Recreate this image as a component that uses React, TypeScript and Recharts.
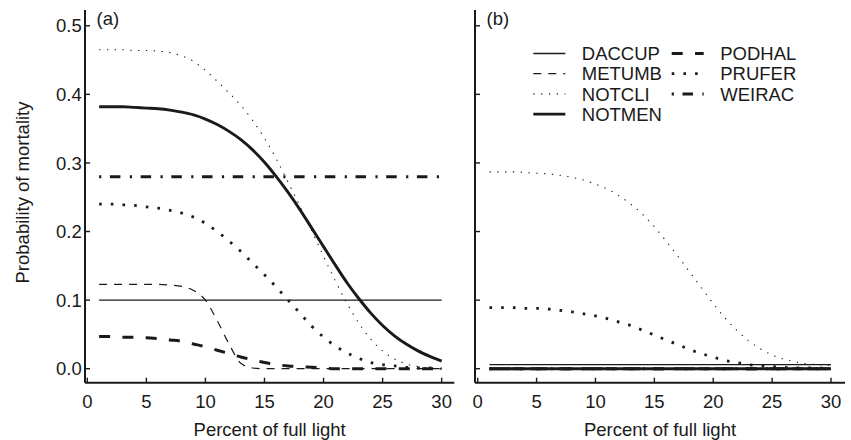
import React from "react";
import { LineChart, Line, XAxis, YAxis } from "recharts";

// light levels (percent of full light)
const LIGHT = [1, 2, 3, 4, 5, 6, 7, 8, 9, 10, 11, 12, 13, 14, 15, 16, 17, 18, 19, 20, 21, 22, 23, 24, 25, 26, 27, 28, 29, 30];

const X_TICKS = [0, 5, 10, 15, 20, 25, 30];
const Y_TICKS = [0, 0.1, 0.2, 0.3, 0.4, 0.5];

const SPECIES = ["DACCUP", "METUMB", "NOTCLI", "NOTMEN", "PODHAL", "PRUFER", "WEIRAC"];

// panel (a)
const A_DACCUP = [0.1, 0.1, 0.1, 0.1, 0.1, 0.1, 0.1, 0.1, 0.1, 0.1, 0.1, 0.1, 0.1, 0.1, 0.1, 0.1, 0.1, 0.1, 0.1, 0.1, 0.1, 0.1, 0.1, 0.1, 0.1, 0.1, 0.1, 0.1, 0.1, 0.1];
const A_METUMB = [0.123, 0.123, 0.123, 0.123, 0.123, 0.123, 0.122, 0.12, 0.114, 0.1, 0.07, 0.036, 0.008, 0.001, 0, 0, 0, 0, 0, 0, 0, 0, 0, 0, 0, 0, 0, 0, 0, 0];
const A_NOTCLI = [0.465, 0.465, 0.465, 0.464, 0.464, 0.463, 0.461, 0.456, 0.448, 0.435, 0.419, 0.402, 0.384, 0.362, 0.336, 0.306, 0.272, 0.237, 0.201, 0.164, 0.128, 0.095, 0.066, 0.043, 0.026, 0.014, 0.007, 0.003, 0.001, 0];
const A_NOTMEN = [0.382, 0.382, 0.382, 0.381, 0.38, 0.379, 0.377, 0.374, 0.37, 0.364, 0.356, 0.346, 0.334, 0.319, 0.301, 0.28, 0.257, 0.232, 0.205, 0.178, 0.151, 0.125, 0.102, 0.081, 0.063, 0.048, 0.036, 0.026, 0.018, 0.011];
const A_PODHAL = [0.047, 0.047, 0.046, 0.046, 0.045, 0.044, 0.042, 0.04, 0.036, 0.032, 0.027, 0.022, 0.017, 0.013, 0.009, 0.006, 0.004, 0.003, 0.002, 0.001, 0, 0, 0, 0, 0, 0, 0, 0, 0, 0];
const A_PRUFER = [0.24, 0.24, 0.239, 0.238, 0.236, 0.234, 0.231, 0.227, 0.221, 0.212, 0.2, 0.186, 0.171, 0.154, 0.137, 0.119, 0.1, 0.081, 0.062, 0.046, 0.033, 0.023, 0.015, 0.009, 0.006, 0.004, 0.002, 0.001, 0.001, 0];
const A_WEIRAC = [0.28, 0.28, 0.28, 0.28, 0.28, 0.28, 0.28, 0.28, 0.28, 0.28, 0.28, 0.28, 0.28, 0.28, 0.28, 0.28, 0.28, 0.28, 0.28, 0.28, 0.28, 0.28, 0.28, 0.28, 0.28, 0.28, 0.28, 0.28, 0.28, 0.28];

// panel (b)
const B_DACCUP = [0.006, 0.006, 0.006, 0.006, 0.006, 0.006, 0.006, 0.006, 0.006, 0.006, 0.006, 0.006, 0.006, 0.006, 0.006, 0.006, 0.006, 0.006, 0.006, 0.006, 0.006, 0.006, 0.006, 0.006, 0.006, 0.006, 0.006, 0.006, 0.006, 0.006];
const B_METUMB = [0, 0, 0, 0, 0, 0, 0, 0, 0, 0, 0, 0, 0, 0, 0, 0, 0, 0, 0, 0, 0, 0, 0, 0, 0, 0, 0, 0, 0, 0];
const B_NOTCLI = [0.287, 0.287, 0.287, 0.286, 0.285, 0.284, 0.282, 0.279, 0.275, 0.269, 0.262, 0.252, 0.24, 0.225, 0.207, 0.186, 0.164, 0.141, 0.118, 0.095, 0.074, 0.056, 0.041, 0.029, 0.02, 0.014, 0.01, 0.007, 0.006, 0.005];
const B_NOTMEN = [0, 0, 0, 0, 0, 0, 0, 0, 0, 0, 0, 0, 0, 0, 0, 0, 0, 0, 0, 0, 0, 0, 0, 0, 0, 0, 0, 0, 0, 0];
const B_PODHAL = [0, 0, 0, 0, 0, 0, 0, 0, 0, 0, 0, 0, 0, 0, 0, 0, 0, 0, 0, 0, 0, 0, 0, 0, 0, 0, 0, 0, 0, 0];
const B_PRUFER = [0.089, 0.089, 0.089, 0.088, 0.088, 0.087, 0.085, 0.083, 0.08, 0.077, 0.073, 0.068, 0.063, 0.056, 0.049, 0.042, 0.035, 0.028, 0.022, 0.017, 0.012, 0.009, 0.006, 0.004, 0.003, 0.002, 0.001, 0.001, 0.001, 0];
const B_WEIRAC = [0, 0, 0, 0, 0, 0, 0, 0, 0, 0, 0, 0, 0, 0, 0, 0, 0, 0, 0, 0, 0, 0, 0, 0, 0, 0, 0, 0, 0, 0];

const FONT = '"Liberation Sans", Arial, Helvetica, sans-serif';
const FS = 18.5;
const INK = "#1a1a1a";

// line styles, mimicking R's lty/lwd
const STYLE: Record<string, { w: number; dash?: string }> = {
  DACCUP: { w: 1.3 },
  METUMB: { w: 1.2, dash: "8 7" },
  NOTCLI: { w: 1.1, dash: "1.3 6.5" },
  NOTMEN: { w: 2.9 },
  PODHAL: { w: 3, dash: "11 12.3" },
  PRUFER: { w: 2.8, dash: "2.6 9.1" },
  WEIRAC: { w: 3, dash: "2.2 8.6 10.5 9.4" },
};

function buildRows(series: Record<string, number[]>) {
  return LIGHT.map((x, i) => {
    const row: Record<string, number> = { x };
    SPECIES.forEach((s) => {
      row[s] = series[s][i];
    });
    return row;
  });
}

const rowsA = buildRows({
  DACCUP: A_DACCUP, METUMB: A_METUMB, NOTCLI: A_NOTCLI, NOTMEN: A_NOTMEN,
  PODHAL: A_PODHAL, PRUFER: A_PRUFER, WEIRAC: A_WEIRAC,
});
const rowsB = buildRows({
  DACCUP: B_DACCUP, METUMB: B_METUMB, NOTCLI: B_NOTCLI, NOTMEN: B_NOTMEN,
  PODHAL: B_PODHAL, PRUFER: B_PRUFER, WEIRAC: B_WEIRAC,
});

const tickStyle = { fill: INK, fontSize: FS, fontFamily: FONT };
const axisLine = { stroke: INK, strokeWidth: 2 };
const tickLine = { stroke: INK, strokeWidth: 1.4 };

function seriesLines() {
  return SPECIES.map((s) => (
    <Line
      key={s}
      type="monotone"
      dataKey={s}
      stroke={INK}
      strokeWidth={STYLE[s].w}
      strokeDasharray={STYLE[s].dash}
      strokeLinecap="butt"
      dot={false}
      activeDot={false}
      isAnimationActive={false}
    />
  ));
}

function Legend7() {
  const col1 = ["DACCUP", "METUMB", "NOTCLI", "NOTMEN"];
  const col2 = ["PODHAL", "PRUFER", "WEIRAC"];
  const row = (name: string, i: number, x0: number) => {
    const y = 53.5 + i * 20.2;
    return (
      <g key={name}>
        <line x1={x0} x2={x0 + 32} y1={y} y2={y} stroke={INK}
          strokeWidth={STYLE[name].w} strokeDasharray={STYLE[name].dash} />
        <text x={x0 + 48.5} y={y + 6.6} fill={INK} fontSize={FS} fontFamily={FONT}>{name}</text>
      </g>
    );
  };
  return (
    <g>
      {col1.map((n, i) => row(n, i, 73.3))}
      {col2.map((n, i) => row(n, i, 211.7))}
    </g>
  );
}

export default function App() {
  return (
    <div style={{ position: "absolute", left: 0, top: 0, width: 851, height: 440, background: "#fff" }}>
      <div style={{ position: "absolute", left: 0, top: 0 }}>
        <LineChart width={460} height={440} data={rowsA} margin={{ top: 10, right: 5.7, bottom: 0.3, left: 0 }}>
          <XAxis
            type="number"
            dataKey="x"
            domain={[-0.195, 31.07]}
            allowDataOverflow
            ticks={X_TICKS}
            interval={0}
            height={57}
            tickSize={-5}
            tickMargin={17}
            axisLine={axisLine}
            tickLine={tickLine}
            tick={tickStyle}
            label={{ value: "Percent of full light", position: "insideBottom", offset: 4, fill: INK, fontSize: FS, fontFamily: FONT }}
          />
          <YAxis
            type="number"
            domain={[-0.0204, 0.523]}
            allowDataOverflow
            ticks={Y_TICKS}
            interval={0}
            width={85}
            tickSize={-5}
            tickMargin={8.3}
            tickFormatter={(v: number) => v.toFixed(1)}
            axisLine={axisLine}
            tickLine={tickLine}
            tick={tickStyle}
          />
          {seriesLines()}
          <text x={29.3} y={192.5} transform="rotate(-90 29.3 192.5)" textAnchor="middle"
            fill={INK} fontSize={FS} fontFamily={FONT}>Probability of mortality</text>
          <text x={96.5} y={25} fill={INK} fontSize={FS} fontFamily={FONT}>(a)</text>
        </LineChart>
      </div>
      <div style={{ position: "absolute", left: 460, top: 0 }}>
        <LineChart width={391} height={440} data={rowsB} margin={{ top: 10, right: 6, bottom: 0.3, left: 0 }}>
          <XAxis
            type="number"
            dataKey="x"
            domain={[-0.23, 31.19]}
            allowDataOverflow
            ticks={X_TICKS}
            interval={0}
            height={57}
            tickSize={-5}
            tickMargin={17}
            axisLine={axisLine}
            tickLine={tickLine}
            tick={tickStyle}
            label={{ value: "Percent of full light", position: "insideBottom", offset: 4, fill: INK, fontSize: FS, fontFamily: FONT }}
          />
          <YAxis
            type="number"
            domain={[-0.0204, 0.523]}
            allowDataOverflow
            ticks={Y_TICKS}
            interval={0}
            width={15}
            tickSize={-5}
            tickMargin={8}
            tickFormatter={() => ""}
            axisLine={axisLine}
            tickLine={tickLine}
            tick={tickStyle}
          />
          {seriesLines()}
          <text x={26.5} y={25} fill={INK} fontSize={FS} fontFamily={FONT}>(b)</text>
          <Legend7 />
        </LineChart>
      </div>
    </div>
  );
}
